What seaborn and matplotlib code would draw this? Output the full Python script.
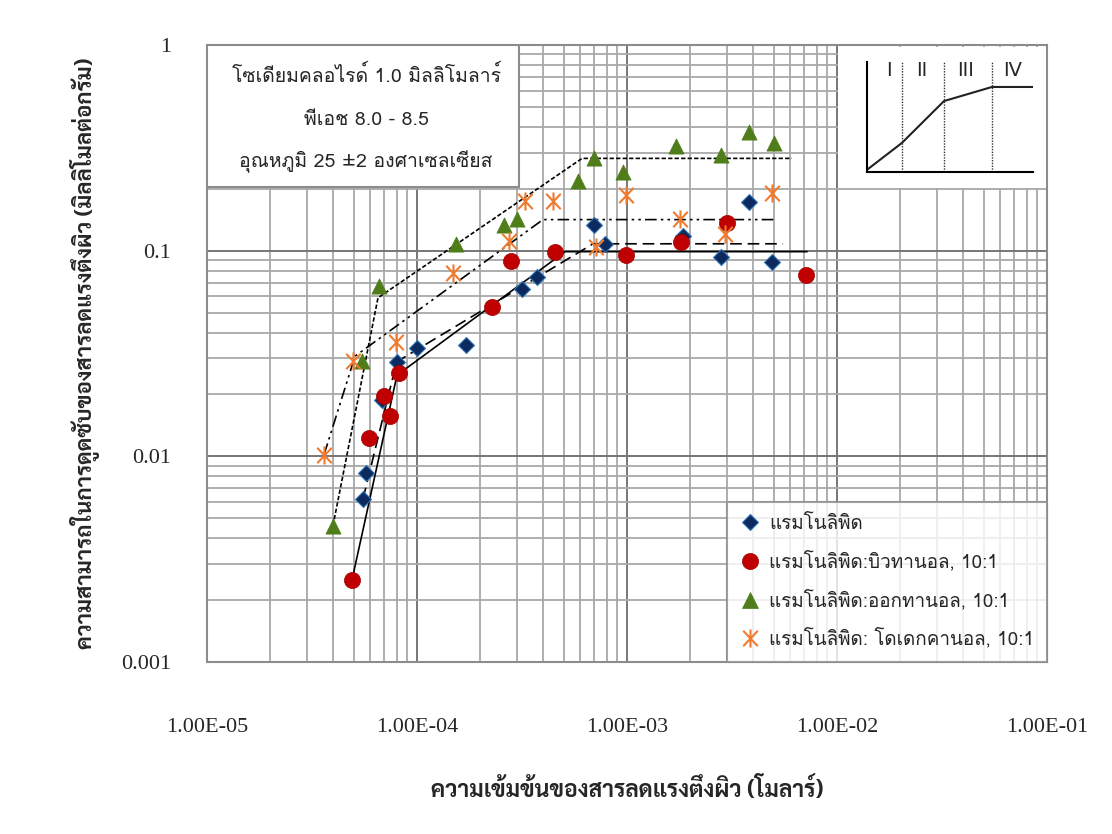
import numpy as np
import pandas as pd
import matplotlib
matplotlib.use("Agg")
import matplotlib.pyplot as plt
import seaborn as sns
from matplotlib.lines import Line2D
from matplotlib.patches import Rectangle
from matplotlib.path import Path
from matplotlib.ticker import FixedLocator, NullFormatter, FixedFormatter

# Surfactant concentration (M) and sorption capacity (mmol/g)
rl_conc = [5.53e-5, 5.7e-5, 6.8e-5, 8.0e-5, 1.0e-4, 1.71e-4, 3.16e-4, 3.73e-4,
           6.96e-4, 7.86e-4, 1.85e-3, 2.8e-3, 3.81e-3, 4.9e-3]
rl_q = [0.00617, 0.00826, 0.0188, 0.0288, 0.0336, 0.0348, 0.0653, 0.0747,
        0.134, 0.108, 0.118, 0.0935, 0.173, 0.0884]

but_conc = [4.9e-5, 5.9e-5, 6.96e-5, 7.4e-5, 8.2e-5, 2.28e-4, 2.8e-4, 4.54e-4,
            9.9e-4, 1.81e-3, 2.99e-3, 7.1e-3]
but_q = [0.00251, 0.01225, 0.0196, 0.0157, 0.0254, 0.0533, 0.0894, 0.0989,
         0.0955, 0.1106, 0.137, 0.0764]

oct_conc = [3.98e-5, 5.47e-5, 6.59e-5, 1.53e-4, 2.6e-4, 2.99e-4, 5.85e-4, 6.96e-4,
            9.57e-4, 1.71e-3, 2.8e-3, 3.81e-3, 5.0e-3]
oct_q = [0.0046, 0.029, 0.0675, 0.108, 0.134, 0.142, 0.217, 0.281,
         0.24, 0.322, 0.291, 0.376, 0.333]

dod_conc = [3.61e-5, 4.96e-5, 7.94e-5, 1.48e-4, 2.74e-4, 3.27e-4, 4.44e-4, 7.1e-4,
            9.9e-4, 1.79e-3, 2.93e-3, 4.9e-3]
dod_q = [0.0102, 0.029, 0.036, 0.078, 0.112, 0.175, 0.175, 0.1046,
         0.1855, 0.143, 0.121, 0.19]

# Piecewise isotherm trend lines (regions I-IV)
but_fit_conc = [4.9e-5, 8.03e-5, 5.07e-4, 7.2e-3]
but_fit_q = [0.0025, 0.0248, 0.0989, 0.0989]
rl_fit_conc = [5.53e-5, 8.0e-5, 6.89e-4, 5.53e-3]
rl_fit_q = [0.0062, 0.0288, 0.108, 0.108]
dod_fit_conc = [3.61e-5, 5.07e-5, 3.98e-4, 5.07e-3]
dod_fit_q = [0.0102, 0.0307, 0.1416, 0.1416]
oct_fit_conc = [3.98e-5, 6.52e-5, 6.11e-4, 6.1e-3]
oct_fit_q = [0.0046, 0.059, 0.281, 0.281]

# Schematic isotherm shape (normalised units)
shape_x = [0.0, 0.21, 0.464, 0.753, 1.0]
shape_y = [0.02, 0.264, 0.645, 0.773, 0.773]
region_bounds = [0.21, 0.464, 0.753]
region_names = ["I", "II", "III", "IV"]
region_label_x = [0.133, 0.33, 0.596, 0.88]

series_names = ["แรมโนลิพิด", "แรมโนลิพิด:บิวทานอล, 10:1",
                "แรมโนลิพิด:ออกทานอล, 10:1", "แรมโนลิพิด: โดเดกคานอล, 10:1"]
x_tick_values = [1e-5, 1e-4, 1e-3, 1e-2, 1e-1]
x_tick_labels = ["1.00E-05", "1.00E-04", "1.00E-03", "1.00E-02", "1.00E-01"]
y_tick_values = [1e-3, 1e-2, 1e-1, 1]
y_tick_labels = ["0.001", "0.01", "0.1", "1"]

conditions = ["โซเดียมคลอไรด์ 1.0 มิลลิโมลาร์", "พีเอช 8.0 - 8.5",
              "อุณหภูมิ 25 ±2 องศาเซลเซียส"]
x_title = "ความเข้มข้นของสารลดแรงตึงผิว (โมลาร์)"
y_title = "ความสามารถในการดูดซับของสารลดแรงตึงผิว (มิลลิโมลต่อกรัม)"

sns.set_style("white")
body_font = ["Loma", "Noto Sans Thai", "DejaVu Sans"]
title_font = ["Sarabun", "Loma", "Noto Sans Thai", "DejaVu Sans"]
plt.rcParams["font.family"] = body_font

W, H = 1112, 834
fig = plt.figure(figsize=(W / 100, H / 100), dpi=100)
ax = fig.add_axes([207 / W, 1 - 662 / H, 840 / W, 617 / H])
ax.set_xscale("log")
ax.set_yscale("log")
ax.set_xlim(1e-5, 1e-1)
ax.set_ylim(1e-3, 1)

# Log grid with every minor decade line
ax.xaxis.set_major_locator(FixedLocator(x_tick_values))
ax.xaxis.set_major_formatter(FixedFormatter(x_tick_labels))
ax.yaxis.set_major_locator(FixedLocator(y_tick_values))
ax.yaxis.set_major_formatter(FixedFormatter(y_tick_labels))
minor_x = [m * 10.0 ** e for e in range(-5, -1) for m in range(2, 10)]
minor_y = [m * 10.0 ** e for e in range(-3, 0) for m in range(2, 10)]
ax.xaxis.set_minor_locator(FixedLocator(minor_x))
ax.yaxis.set_minor_locator(FixedLocator(minor_y))
ax.xaxis.set_minor_formatter(NullFormatter())
ax.yaxis.set_minor_formatter(NullFormatter())
ax.set_axisbelow(True)
ax.grid(which="major", color="#767676", linewidth=1.4)
ax.grid(which="minor", color="#a8a8a8", linewidth=1.3)
ax.tick_params(which="both", length=0)
ax.tick_params(axis="x", pad=40)
ax.tick_params(axis="y", pad=26)
for lab in ax.get_xticklabels() + ax.get_yticklabels():
    lab.set_fontfamily("Liberation Serif")
    lab.set_fontsize(16)
for sp in ax.spines.values():
    sp.set_color("#8c8c8c")
    sp.set_linewidth(1.5)

# Trend lines
line_specs = [
    (but_fit_conc, but_fit_q, (None, None)),
    (rl_fit_conc, rl_fit_q, (7, 3.5)),
    (dod_fit_conc, dod_fit_q, (7, 2.5, 1.5, 2.5, 1.5, 2.5)),
    (oct_fit_conc, oct_fit_q, (2.6, 1.3)),
]
for xs, ys, dash in line_specs:
    kw = {} if dash[0] is None else {"dashes": dash}
    sns.lineplot(x=xs, y=ys, ax=ax, color="black", linewidth=1.2, sort=False,
                 estimator=None, zorder=3, **kw)

# Asterisk marker: vertical stroke plus a cross
ast = Path([(0, -1), (0, 1), (-0.8, -0.85), (0.8, 0.85), (-0.8, 0.85), (0.8, -0.85)],
           [Path.MOVETO, Path.LINETO] * 3)

colors = ["#0d2a5e", "#c00000", "#4e7d19", "#f07a2e"]
markers = ["D", "o", "^", ast]
sizes = [66, 135, 120, 170]
edges = ["#2f73b5", "#a00000", "#4e7d19", "#f07a2e"]
widths = [0.8, 0.5, 0.5, 1.5]
data_sets = [(rl_conc, rl_q), (but_conc, but_q), (oct_conc, oct_q), (dod_conc, dod_q)]
for (xs, ys), c, m, s, ec, lw in zip(data_sets, colors, markers, sizes, edges, widths):
    sns.scatterplot(x=xs, y=ys, ax=ax, color=c, marker=m, s=s, edgecolor=ec,
                    linewidth=lw, zorder=4, legend=False)

# Experimental conditions box
ax.add_patch(Rectangle((0, (662 - 187) / 617), 312 / 840, 1 - (662 - 187) / 617,
                       transform=ax.transAxes, facecolor="white",
                       edgecolor="#8c8c8c", linewidth=1.5, zorder=5))
for txt, yy in zip(conditions, [75, 120, 162]):
    ax.text((366 - 207) / 840, (662 - yy) / 617, txt, transform=ax.transAxes,
            ha="center", va="center", fontsize=14, zorder=6)

# White panel for the schematic
ax.add_patch(Rectangle(((838 - 207) / 840, (662 - 188) / 617), (1045.5 - 838) / 840,
                       (188 - 47) / 617, transform=ax.transAxes, facecolor="white",
                       edgecolor="none", zorder=5))

# Legend
handles = [Line2D([], [], linestyle="none", marker=m, color=c, markeredgecolor=ec,
                  markeredgewidth=lw, markersize=np.sqrt(s))
           for c, m, s, ec, lw in zip(colors, markers, sizes, edges, widths)]
leg = ax.legend(handles, series_names, loc="lower right", bbox_to_anchor=(1, 0),
                borderaxespad=0, frameon=True, fancybox=False, fontsize=13.6,
                handlelength=1.0, handletextpad=0.5, labelspacing=0.95,
                borderpad=0.7)
leg.get_frame().set_edgecolor("#8c8c8c")
leg.get_frame().set_linewidth(1.5)
leg.set_zorder(7)

ax.set_xlabel(x_title, fontsize=16.5, fontweight="bold", va="center",
              fontfamily=title_font)
ax.xaxis.set_label_coords(0.5, (662 - 790) / 617)
ax.set_ylabel(y_title, fontsize=16, fontweight="bold", va="center",
              fontfamily=title_font)
ax.yaxis.set_label_coords((85 - 207) / 840, 0.5)

# Schematic of isotherm regions
ins = fig.add_axes([867 / W, 1 - 172 / H, 166 / W, 110 / H], zorder=5)
ins.set_facecolor("none")
ins.set_xlim(0, 1)
ins.set_ylim(0, 1)
ins.set_xticks([])
ins.set_yticks([])
for side in ["top", "right"]:
    ins.spines[side].set_visible(False)
for side in ["left", "bottom"]:
    ins.spines[side].set_color("black")
    ins.spines[side].set_linewidth(1.5)
sns.lineplot(x=shape_x, y=shape_y, ax=ins, color="#222222", linewidth=1.5,
             sort=False, estimator=None)
for b in region_bounds:
    ins.axvline(b, color="#333333", linewidth=1.0, linestyle=(0, (1, 1)))
for name, lx in zip(region_names, region_label_x):
    ins.text(lx, 0.92, name, ha="center", va="center", fontsize=14,
             fontfamily="DejaVu Sans")

fig.savefig("out.png", dpi=100, facecolor="white")
